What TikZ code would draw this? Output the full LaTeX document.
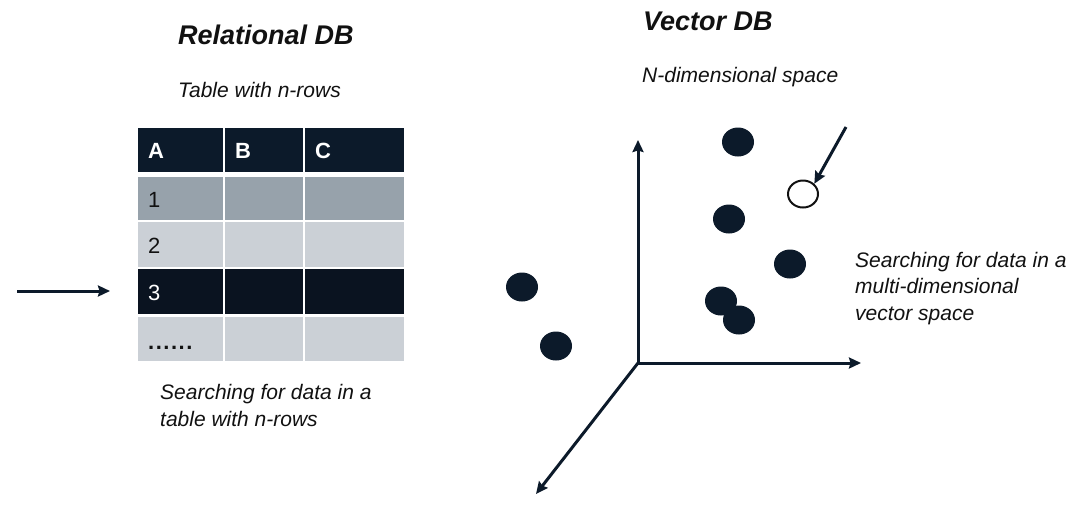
\documentclass[tikz,border=0pt]{standalone}
\usepackage{fontspec}
\setmainfont{Liberation Sans}
\usetikzlibrary{shapes.geometric,arrows.meta}
\definecolor{navy}{HTML}{0C1A2A}
\definecolor{rowA}{HTML}{97A2AB}
\definecolor{rowB}{HTML}{CBD0D6}
\definecolor{rowC}{HTML}{0A1320}
\definecolor{ink}{HTML}{111111}
\tikzset{
  celltext/.style={anchor=base west, inner sep=0pt, font=\fontsize{22}{25}\selectfont},
  headtext/.style={anchor=base west, inner sep=0pt, text=white, font=\fontsize{22}{25}\selectfont\bfseries},
  title/.style={anchor=base west, inner sep=0pt, text=ink, font=\fontsize{27}{32}\selectfont\bfseries\itshape},
  body/.style={anchor=base west, inner sep=0pt, text=ink, align=left, font=\fontsize{21}{26.5}\selectfont\itshape},
  dot/.style={ellipse, draw=navy, line width=1pt, fill=navy, minimum width=31pt, minimum height=28pt, inner sep=0pt},
  hollow/.style={ellipse, draw=ink, line width=2pt, fill=white, minimum width=30pt, minimum height=27pt, inner sep=0pt},
  conn/.style={draw=navy, line width=3pt, -{Stealth[length=12pt,width=11pt,inset=1.5pt]}},
}
\begin{document}
\begin{tikzpicture}[x=1pt,y=-1pt]
\useasboundingbox (0,0) rectangle (1078,504);
% titles
\node[title] (t1) at (178,44) {Relational DB};
\node[body] (s1) at (178,97) {Table with n-rows};
\node[title] (t2) at (643,30) {Vector DB};
\node[body] (s2) at (642,82) {N-dimensional space};
% table
\foreach \r/\ya/\yb/\col in {h/128/172/navy, 1/177/220/rowA, 2/222/267/rowB, 3/269/314/rowC, 4/317/361/rowB}{
  \foreach \c/\xa/\xb in {a/138/223, b/225/303, c/305/404}{
    \fill[\col] (\xa,\ya) rectangle (\xb,\yb);
  }
}
\node[headtext] (hA) at (148,158) {A};
\node[headtext] (hB) at (235,158) {B};
\node[headtext] (hC) at (315,158) {C};
\node[celltext, text=ink] (r1) at (148,207) {1};
\node[celltext, text=ink] (r2) at (148,253) {2};
\node[celltext, text=white] (r3) at (148,300) {3};
\node[celltext, text=ink] (r4) at (148,349) {\textbf{.\kern1.5pt.\kern1.5pt.\kern1.5pt.\kern1.5pt.\kern1.5pt.}};
\node[body] (s3) at (160,426) {Searching for data in a\\table with n-rows};
% left arrow
\coordinate (la) at (17,291);
\coordinate (lb) at (110,291);
\draw[conn] (la) -- (lb);
% axes
\coordinate (o) at (638,363);
\coordinate (ay) at (638,140);
\coordinate (ax) at (861,363);
\coordinate (az) at (536,494);
\draw[conn] (o) -- (ay);
\draw[conn] (o) -- (ax);
\draw[conn] (o) -- (az);
% dots
\node[dot] (d1) at (738,142) {};
\node[dot] (d2) at (729,219) {};
\node[dot] (d3) at (790,264) {};
\node[dot] (d4) at (522,287) {};
\node[dot] (d5) at (721,301) {};
\node[dot] (d6) at (739,320) {};
\node[dot] (d7) at (556,346) {};
\node[hollow] (q) at (803,194) {};
\coordinate (qa) at (846,127);
\draw[conn] (qa) -- (q.north east);
\node[body] (s4) at (855,320) {Searching for data in a\\multi-dimensional\\vector space};
\end{tikzpicture}
\end{document}
